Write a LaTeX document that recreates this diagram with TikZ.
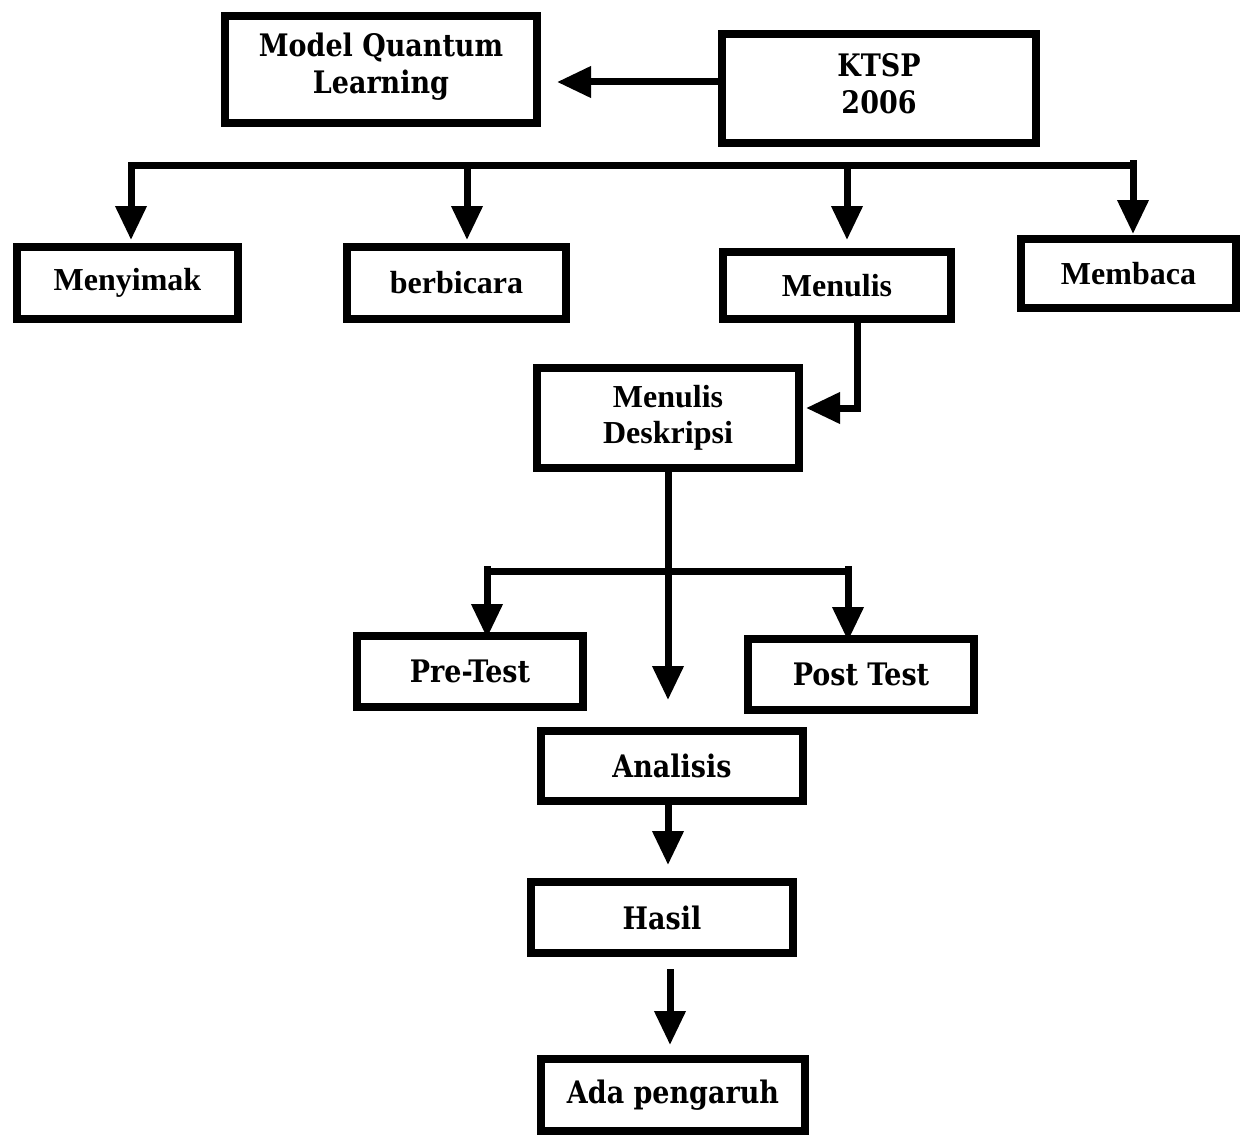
\documentclass[tikz,border=0pt]{standalone}
\usepackage{fontspec}
\setmainfont{Liberation Serif}
\newfontfamily\cambf[FakeStretch=0.87]{DejaVu Serif}
\usetikzlibrary{arrows.meta}
\begin{document}
\begin{tikzpicture}[x=1pt,y=-1pt,
  box/.style={draw,line width=8pt,inner sep=0pt,outer sep=0pt,align=center,
    font=\bfseries\fontsize{32}{36}\selectfont},
  cbox/.style={box,font=\cambf\bfseries\fontsize{31}{37}\selectfont},
  ln/.style={line width=7pt},
  arr/.style={ln,-{Triangle[width=30pt,length=34pt]}}]
\useasboundingbox[fill=white] (0,0) rectangle (1246,1137);

% boxes
\node[cbox,minimum width=312pt,minimum height=107pt] (mql) at (381,69.5) {Model Quantum\\Learning\rule[-12pt]{0pt}{0pt}};
\node[cbox,minimum width=314pt,minimum height=109pt] (ktsp) at (879,88.5) {KTSP\\2006\rule[-10pt]{0pt}{0pt}};
\node[box,minimum width=221pt,minimum height=72pt] (menyimak) at (127.5,283) {Menyimak};
\node[box,minimum width=219pt,minimum height=72pt] (berbicara) at (456.5,283) {berbicara};
\node[box,minimum width=228pt,minimum height=67pt] (menulis) at (837,285.5) {Menulis};
\node[box,minimum width=215pt,minimum height=69pt] (membaca) at (1128.5,273.5) {Membaca};
\node[box,minimum width=262pt,minimum height=100pt,font=\bfseries\fontsize{32}{36}\selectfont] (md) at (668,418) {Menulis\\Deskripsi};
\node[cbox,minimum width=226pt,minimum height=71pt] (pre) at (470,671.5) {Pre-Test};
\node[cbox,minimum width=226pt,minimum height=71pt] (post) at (861,674.5) {Post Test};
\node[cbox,minimum width=262pt,minimum height=70pt] (analisis) at (672,766) {Analisis};
\node[cbox,minimum width=262pt,minimum height=71pt] (hasil) at (662,917.5) {Hasil};
\node[cbox,minimum width=264pt,minimum height=72pt] (ada) at (673,1095) {Ada pengaruh};

% KTSP -> Model Quantum Learning
\draw[arr,shorten >=20pt] ([yshift=6.5pt]ktsp.west) -- ([yshift=6.5pt]ktsp.west -| mql.east);

% bus
\coordinate (busL) at (131,165);
\coordinate (busR) at (1133,165);
\coordinate (busB) at (467,165);
\coordinate (busM) at (847,165);
\coordinate (busRt) at (1133,160);
\draw[ln,line cap=rect] (busL) -- (busR);
\draw[arr,shorten >=7pt] (busL) -- (busL |- menyimak.north);
\draw[arr,shorten >=7pt] (busB) -- (busB |- berbicara.north);
\draw[arr,shorten >=12pt] (busM) -- (busM |- menulis.north);
\draw[arr,shorten >=5pt] (busRt) -- (busRt |- membaca.north);

% Menulis -> Menulis Deskripsi
\draw[arr,shorten >=7pt] ([xshift=20pt]menulis.south) |- ([yshift=10pt]md.east);

% Menulis Deskripsi -> Analisis
\draw[arr,shorten >=31pt] (md.south) -- (md.south |- analisis.north);

% branch to Pre-Test / Post Test
\coordinate (brL) at (487,566);
\coordinate (brR) at (848,566);
\draw[ln] (487,571) -- (848,571);
\draw[arr,shorten >=-2pt] (brL) -- (brL |- pre.north);
\draw[arr,shorten >=-2pt] (brR) -- (brR |- post.north);

% Analisis -> Hasil
\draw[arr,shorten >=17pt] ([xshift=-4pt]analisis.south) -- ([xshift=-4pt]analisis.south |- hasil.north);

% Hasil -> Ada pengaruh
\draw[arr,shorten <=16pt,shorten >=14pt] ([xshift=8pt]hasil.south) -- ([xshift=8pt]hasil.south |- ada.north);
\end{tikzpicture}
\end{document}
